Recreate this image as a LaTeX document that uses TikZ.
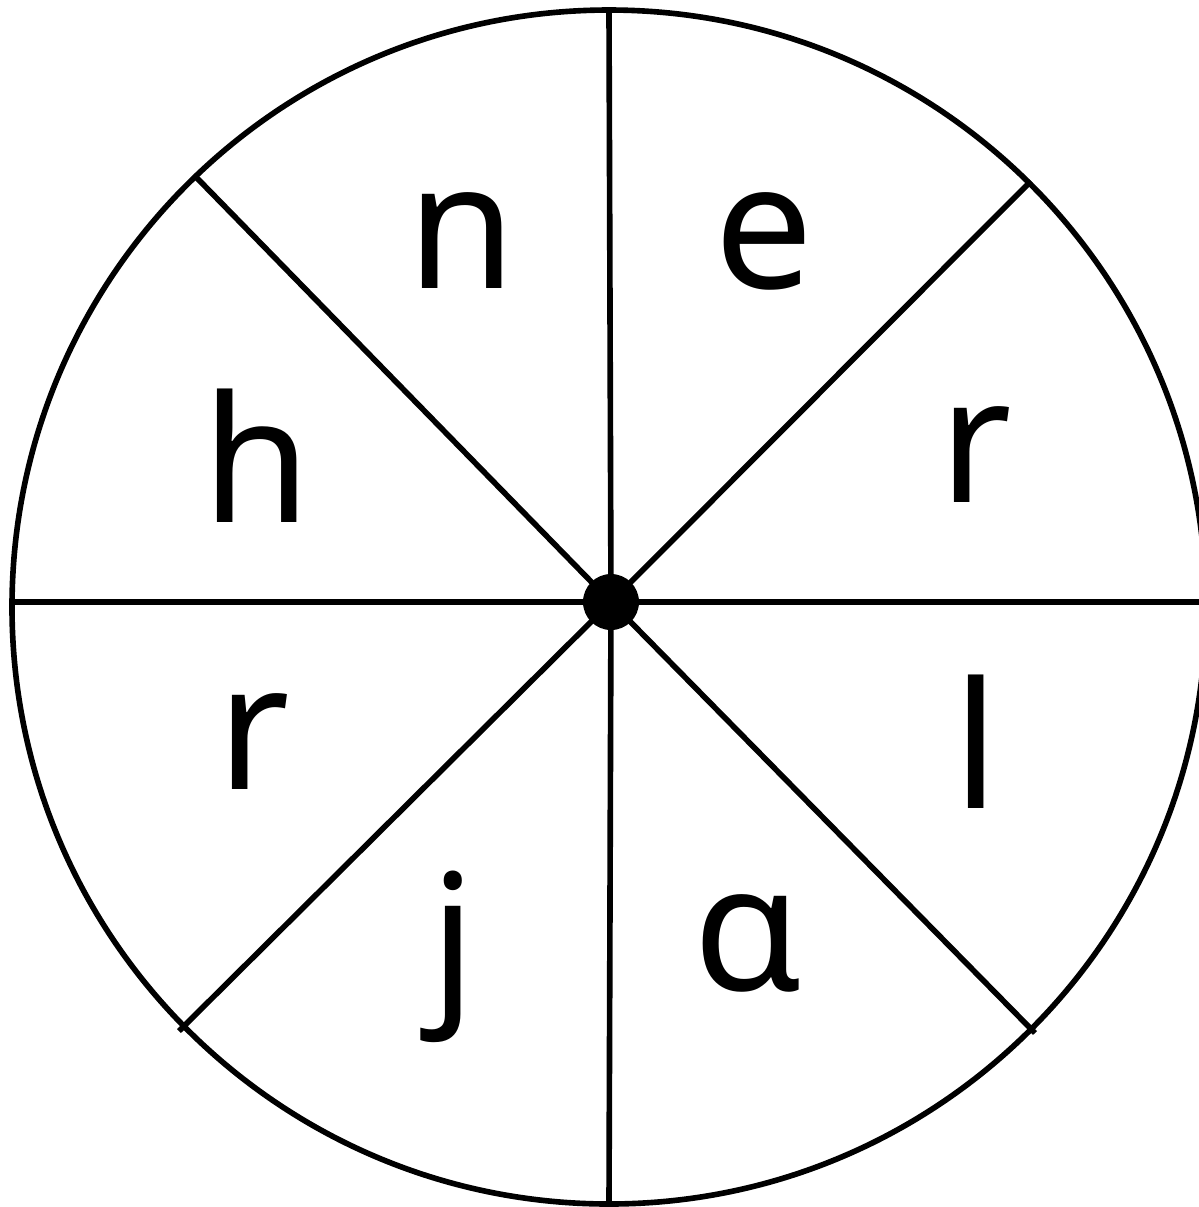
\documentclass[tikz,border=0pt]{standalone}
\usepackage{fontspec}
\setmainfont{Noto Sans}
\tikzset{rim/.style={line width=1.6pt},spoke/.style={line width=1.6pt},letter/.style={font=\fontsize{50}{60}\selectfont,anchor=base,inner sep=0pt},hub/.style={circle,fill=black,minimum size=5.6mm,inner sep=0pt}}
\begin{document}
\begin{tikzpicture}[x=0.1mm,y=-0.1mm]
\useasboundingbox (0,0) rectangle (1199,1207);
\draw[rim] (609,607) circle[radius=597];
\node[hub] (hub) at (611,602) {};
% rim ends of the spokes
\coordinate (top) at (609,10);\coordinate (bottom) at (609,1206);\coordinate (left) at (11,602);\coordinate (right) at (1210,602);
\coordinate (tl) at (196,177);\coordinate (tr) at (1031,181);\coordinate (bl) at (179,1031);\coordinate (br) at (1035,1033);
\foreach \e in {top,bottom,left,right,tl,tr,bl,br} \draw[spoke] (hub.center) -- (\e);
% letters
\node[letter] (n) at (462,288) {n};\node[letter] (e) at (764,288) {e};
\node[letter] (h) at (257,522) {h};\node[letter] (r1) at (976,502) {r};
\node[letter] (r2) at (254,789) {r};\node[letter] (l) at (976,808) {l};
\node[letter] (j) at (453,1000) {j};\node[letter] (a) at (748,990) {ɑ};
\end{tikzpicture}
\end{document}
